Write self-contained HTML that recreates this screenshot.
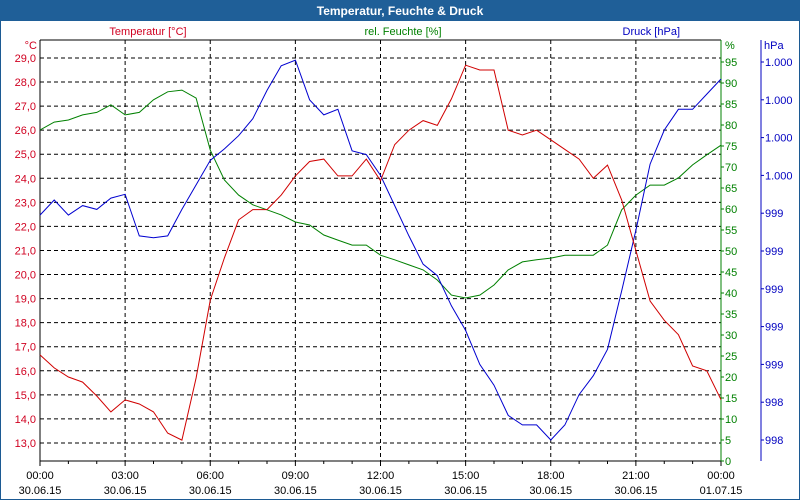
<!DOCTYPE html>
<html><head><meta charset="utf-8"><style>
body{margin:0;width:800px;height:500px;overflow:hidden;background:#fff;font-family:"Liberation Sans",sans-serif}
</style></head><body>
<svg id="c" width="800" height="500" style="position:absolute;left:0;top:0">
<rect x="0" y="0" width="800" height="500" fill="#fff" stroke="#1c5a93" stroke-width="2"/>
<rect x="0" y="0" width="800" height="21" fill="#1f5f98"/>
<text x="400" y="15" text-anchor="middle" font-size="12" font-weight="bold" fill="#fff">Temperatur, Feuchte &amp; Druck</text>
<text x="148" y="35" text-anchor="middle" font-size="11" fill="#d00020">Temperatur [°C]</text>
<text x="403" y="35" text-anchor="middle" font-size="11" fill="#008000">rel. Feuchte [%]</text>
<text x="680" y="35" text-anchor="end" font-size="11" fill="#0000c0">Druck [hPa]</text>
<text x="37" y="49" text-anchor="end" font-size="11" fill="#d00020">°C</text>
<text x="725" y="49" font-size="11" fill="#008000">%</text>
<text x="764" y="49" font-size="11" fill="#0000c0">hPa</text>
<g id="g"></g>
</svg>
<script>
const hours=[0,0.5,1,1.5,2,2.5,3,3.5,4,4.5,5,5.5,6,6.5,7,7.5,8,8.5,9,9.5,10,10.5,11,11.5,12,12.5,13,13.5,14,14.5,15,15.5,16,16.5,17,17.5,18,18.5,19,19.5,20,20.5,21,21.5,22,22.5,23,23.5,24];
const temperature=[16.66,16.12,15.74,15.53,14.95,14.29,14.79,14.62,14.29,13.41,13.12,15.7,18.94,20.69,22.27,22.7,22.7,23.3,24.1,24.7,24.8,24.1,24.1,24.8,23.9,25.4,26.0,26.4,26.2,27.3,28.7,28.5,28.5,26.0,25.8,26.0,25.6,25.2,24.8,24.0,24.55,23.1,21.0,18.9,18.1,17.5,16.2,16.0,14.8];
const humidity=[78.8,80.7,81.2,82.4,83,84.8,82.4,83,86,87.9,88.3,86.4,74,66.9,63.3,61,59.8,58.6,56.9,56.2,53.8,52.6,51.4,51.4,49,47.9,46.7,45.5,43.1,39.5,38.8,39.5,41.9,45.5,47.4,47.9,48.3,49,49,49,51.4,59.8,63.3,65.7,65.7,67.4,70.5,72.9,75.2];
const pressure=[999.39,999.47,999.39,999.44,999.42,999.48,999.50,999.28,999.27,999.28,999.42,999.55,999.68,999.74,999.81,999.90,1000.05,1000.18,1000.21,1000.00,999.92,999.95,999.73,999.71,999.60,999.44,999.28,999.13,999.07,998.91,998.78,998.60,998.49,998.33,998.28,998.28,998.20,998.28,998.44,998.54,998.68,998.99,999.31,999.66,999.84,999.95,999.95,1000.03,1000.11];
const tempTicks=[13,14,15,16,17,18,19,20,21,22,23,24,25,26,27,28,29];
const humTicks=[0,5,10,15,20,25,30,35,40,45,50,55,60,65,70,75,80,85,90,95];
const presTicks=[1000.2,1000.0,999.8,999.6,999.4,999.2,999.0,998.8,998.6,998.4,998.2];
const timeLabels=["00:00","03:00","06:00","09:00","12:00","15:00","18:00","21:00","00:00"];
const dateLabels=["30.06.15","30.06.15","30.06.15","30.06.15","30.06.15","30.06.15","30.06.15","30.06.15","01.07.15"];

const L=40,R=721,T=40,B=461;
const xS=h=>L+h*(R-L)/24;
const yT=t=>58+(29-t)*24.06;
const yH=v=>B-v*4.2;
const yP=p=>62+(1000.2-p)/0.2*37.8;
const NS='http://www.w3.org/2000/svg';
const g=document.getElementById('g');
function mk(tag,a){const e=document.createElementNS(NS,tag);for(const k in a)e.setAttribute(k,a[k]);g.appendChild(e);return e;}

tempTicks.forEach(t=>{
  const l=mk('line',{x1:L,x2:R,y1:yT(t),y2:yT(t),stroke:'#000','stroke-dasharray':'4,3'});
  
  
  const tx=mk('text',{x:36,y:yT(t)+4,'text-anchor':'end','font-size':11,fill:'#d00020'});
  tx.textContent=t.toFixed(1).replace('.',',');
  
  
});
timeLabels.forEach((s,i)=>{
  const x=xS(i*3);
  if(i>0&&i<8){const l=mk('line',{x1:x,x2:x,y1:T,y2:B,stroke:'#000','stroke-dasharray':'4,3'});
  
  }
  const a=mk('text',{x:x,y:479,'text-anchor':'middle','font-size':11,fill:'#000'});
  a.textContent=s;
  
  
  const b=mk('text',{x:x,y:494,'text-anchor':'middle','font-size':11,fill:'#000'});
  b.textContent=dateLabels[i];
  
  
});
for(let h=0;h<=24;h++){const x=xS(h);const l=mk('line',{x1:x,x2:x,y1:B,y2:B+(h%3?3:5),stroke:'#000'});
  
  }
// axes
let ax=mk('line',{x1:L,x2:R,y1:T,y2:T,stroke:'#000'});


ax=mk('line',{x1:L,x2:R,y1:B,y2:B,stroke:'#000'});


ax=mk('line',{x1:L,x2:L,y1:T,y2:B,stroke:'#000'});


ax=mk('line',{x1:R,x2:R,y1:T,y2:B,stroke:'#008000'});


ax=mk('line',{x1:761,x2:761,y1:T,y2:B,stroke:'#0000c0'});


humTicks.forEach(v=>{
  const l=mk('line',{x1:R,x2:R+3,y1:yH(v),y2:yH(v),stroke:'#008000'});
  
  
  const tx=mk('text',{x:R+4,y:yH(v)+4,'font-size':11,fill:'#008000'});
  tx.textContent=v;
  
  
});
presTicks.forEach(p=>{
  const l=mk('line',{x1:761,x2:764,y1:yP(p),y2:yP(p),stroke:'#0000c0'});
  
  
  const tx=mk('text',{x:765,y:yP(p)+4,'font-size':11,fill:'#0000c0'});
  const r=Math.round(p);
  tx.textContent=r>=1000?'1.'+String(r-1000).padStart(3,'0'):String(r);
  
  
});
function series(vals,yf,col,name){
  const pts=hours.map((h,i)=>xS(h).toFixed(1)+','+yf(vals[i]).toFixed(1)).join(' ');
  const p=mk('polyline',{points:pts,fill:'none',stroke:col,'stroke-width':1});
  
  
}
series(humidity,yH,'#008000','humidity-line');
series(pressure,yP,'#0000d0','pressure-line');
series(temperature,yT,'#d00000','temperature-line');
</script>
</body></html>
